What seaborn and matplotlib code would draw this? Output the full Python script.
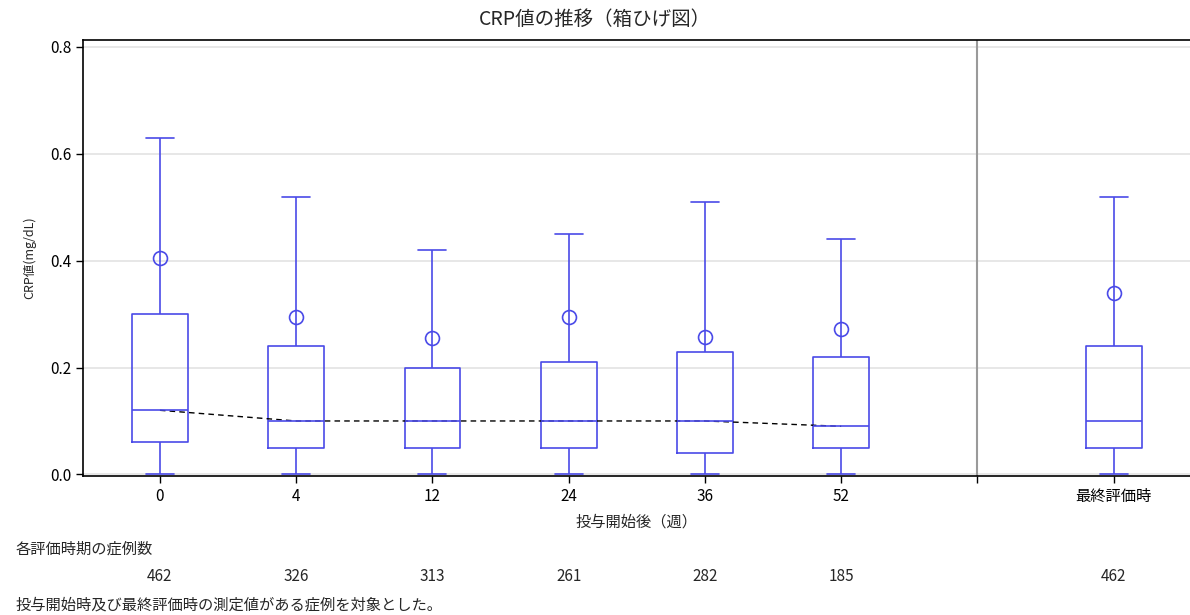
"""
CRP値の推移 — box plots by week with mean markers and median trend line.
"""

import numpy as np
import pandas as pd
import matplotlib
matplotlib.use("Agg")
import matplotlib.pyplot as plt
import matplotlib.transforms as mtransforms
import seaborn as sns

# ── Data ───────────────────────────────────────────────────────────────────────
categories = ["0", "4", "12", "24", "36", "52", "gap", "最終評価時"]
tick_labels = ["0", "4", "12", "24", "36", "52", "", "最終評価時"]
box_cats   = ["0", "4", "12", "24", "36", "52", "最終評価時"]
whisk_low  = [0.00, 0.00, 0.00, 0.00, 0.00, 0.00, 0.00]
q1         = [0.06, 0.05, 0.05, 0.05, 0.04, 0.05, 0.05]
median     = [0.12, 0.10, 0.10, 0.10, 0.10, 0.09, 0.10]
q3         = [0.30, 0.24, 0.20, 0.21, 0.23, 0.22, 0.24]
whisk_high = [0.63, 0.52, 0.42, 0.45, 0.51, 0.44, 0.52]
means      = [0.405, 0.295, 0.255, 0.295, 0.257, 0.273, 0.340]
counts     = [462, 326, 313, 261, 282, 185, 462]
trend_cats = ["0", "4", "12", "24", "36", "52"]

BLUE = "#4a4ae8"

# five-number summaries as long-form data -> quartiles come out exactly
rows = []
for c, a, b, m, d, e in zip(box_cats, whisk_low, q1, median, q3, whisk_high):
    for v in (a, b, m, d, e):
        rows.append({"week": c, "crp": v})
box_df = pd.DataFrame(rows)
mean_df = pd.DataFrame({"week": box_cats, "crp": means})
trend_df = pd.DataFrame({"week": trend_cats, "crp": median[:len(trend_cats)]})

# ── Plot ───────────────────────────────────────────────────────────────────────
sns.set_style("white")
plt.rcParams["font.family"] = ["Noto Sans CJK JP", "DejaVu Sans"]

fig = plt.figure(figsize=(11.9, 6.15), dpi=100)
ax = fig.add_axes([0.0697, 0.226, 0.9303, 0.709])

ax.grid(axis="y", color="#e3e3e3", linewidth=1.2, zorder=0)
ax.set_axisbelow(True)

sns.boxplot(data=box_df, x="week", y="crp", order=categories,
            whis=(0, 100), width=0.41, fill=False, color=BLUE,
            linewidth=1.2, ax=ax)

sns.pointplot(data=trend_df, x="week", y="crp", order=categories,
              errorbar=None, color="black", linestyle=(0, (4, 3)),
              linewidth=1.0, marker="", ax=ax)

sns.pointplot(data=mean_df, x="week", y="crp", order=categories,
              errorbar=None, color=BLUE, linestyle="none", marker="o",
              markersize=10, markerfacecolor="none", markeredgecolor=BLUE,
              markeredgewidth=1.2, ax=ax)

gap_pos = categories.index("gap")
ax.axvline(gap_pos, color="#9a9a9a", linewidth=1.5, zorder=1)

ax.set_xlim(-0.565, len(categories) - 0.44)
ax.set_ylim(-0.003, 0.813)
ax.set_yticks([0.0, 0.2, 0.4, 0.6, 0.8])
ax.set_yticklabels(["0.0", "0.2", "0.4", "0.6", "0.8"])
ax.set_xticks(range(len(categories)))
ax.set_xticklabels(tick_labels)
ax.tick_params(axis="both", direction="out", length=5, width=1,
               labelsize=11, colors="black", bottom=True, left=True)

for side in ("left", "top", "bottom"):
    ax.spines[side].set_color("black")
    ax.spines[side].set_linewidth(1.2)
ax.spines["right"].set_visible(False)

ax.set_xlabel("投与開始後（週）", fontsize=11, labelpad=6)
ax.set_ylabel("CRP値(mg/dL)", fontsize=9, labelpad=10)
fig.suptitle("CRP値の推移（箱ひげ図）", fontsize=14, y=0.985)

# case counts under each time point
fig.text(0.013, 0.108, "各評価時期の症例数", fontsize=11, va="center")
trans = mtransforms.blended_transform_factory(ax.transData, fig.transFigure)
for c, n in zip(box_cats, counts):
    ax.text(categories.index(c), 0.062, str(n), transform=trans,
            ha="center", va="center", fontsize=11)
fig.text(0.013, 0.016, "投与開始時及び最終評価時の測定値がある症例を対象とした。",
         fontsize=11, va="center")

fig.savefig("out.png", dpi=100)
plt.close(fig)
